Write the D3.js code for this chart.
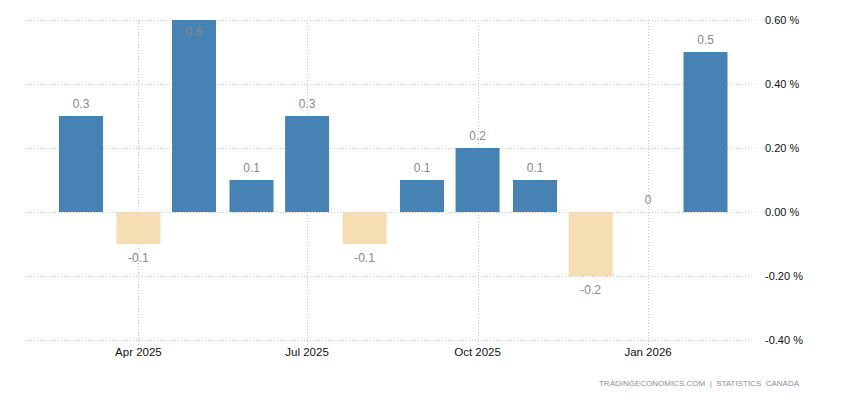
<!DOCTYPE html>
<html>
<head>
<meta charset="utf-8">
<script src="https://cdn.jsdelivr.net/npm/d3@7/dist/d3.min.js"></script>
<style>
  html, body { margin: 0; padding: 0; background: #fff; }
  svg { display: block; font-family: "Liberation Sans", Arial, sans-serif; }
</style>
</head>
<body>
<svg id="chart" width="850" height="400"></svg>
<script>
const months = ["2025-03","2025-04","2025-05","2025-06","2025-07","2025-08","2025-09","2025-10","2025-11","2025-12","2026-01","2026-02"];
const values = [0.3, -0.1, 0.6, 0.1, 0.3, -0.1, 0.1, 0.2, 0.1, -0.2, 0, 0.5];
const labels = ["0.3","-0.1","0.6","0.1","0.3","-0.1","0.1","0.2","0.1","-0.2","0","0.5"];
const xTickDates = ["2025-04","2025-07","2025-10","2026-01"];
const xTickLabels = ["Apr 2025","Jul 2025","Oct 2025","Jan 2026"];
const yTicks = [-0.4, -0.2, 0, 0.2, 0.4, 0.6];
const yTickLabels = ["-0.40 %","-0.20 %","0.00 %","0.20 %","0.40 %","0.60 %"];
const footer = "TRADINGECONOMICS.COM  |  STATISTICS  CANADA";

(function () {
const parse = d3.utcParse("%Y-%m");
const svg = d3.select("#chart");

const pL = 25, pR = 750, pT = 20, pB = 340;
const x = d3.scaleUtc()
  .domain([parse("2025-03"), parse("2026-02")])
  .range([81, 705.5]);
const y = d3.scaleLinear().domain([-0.4, 0.6]).range([pB, pT]);
const barW = 44;

// horizontal grid
svg.append("g").selectAll("line").data(yTicks).join("line")
  .attr("x1", pL).attr("x2", pR)
  .attr("y1", d => Math.round(y(d)) + 0.5).attr("y2", d => Math.round(y(d)) + 0.5)
  .attr("stroke", "#c8c8c8").attr("stroke-dasharray", "1,2");

// vertical grid
const xt = xTickDates.map(parse);
svg.append("g").selectAll("line").data(xt).join("line")
  .attr("x1", d => Math.round(x(d)) + 0.5).attr("x2", d => Math.round(x(d)) + 0.5)
  .attr("y1", pT).attr("y2", pB + 5)
  .attr("stroke", "#c8c8c8").attr("stroke-dasharray", "1,2");

// bars
const data = months.map((m, i) => ({ date: parse(m), v: values[i], label: labels[i] }));
svg.append("g").selectAll("rect").data(data.filter(d => d.v !== 0)).join("rect")
  .attr("x", d => x(d.date) - barW / 2)
  .attr("width", barW)
  .attr("y", d => y(Math.max(0, d.v)))
  .attr("height", d => Math.abs(y(d.v) - y(0)))
  .attr("fill", d => d.v >= 0 ? "#4682b4" : "#f5deb3");

// value labels
svg.append("g").selectAll("text").data(data).join("text")
  .attr("x", d => x(d.date))
  .attr("y", d => {
    if (d.v < 0) return y(d.v) + 18;
    const yy = y(d.v) - 8;
    return yy < pT + 2 ? y(d.v) + 16 : yy;
  })
  .attr("text-anchor", "middle")
  .attr("font-size", 12)
  .attr("fill", "#8a8a8a")
  .text(d => d.label);

// y axis labels
svg.append("g").selectAll("text").data(yTicks).join("text")
  .attr("x", 765)
  .attr("y", d => y(d) + 4)
  .attr("font-size", 11)
  .attr("fill", "#111")
  .text((d, i) => yTickLabels[i]);

// x axis labels
svg.append("g").selectAll("text").data(xt).join("text")
  .attr("x", d => x(d))
  .attr("y", 356)
  .attr("text-anchor", "middle")
  .attr("font-size", 11.5)
  .attr("fill", "#111")
  .text((d, i) => xTickLabels[i]);

// footer
svg.append("text")
  .attr("x", 799).attr("y", 386)
  .attr("text-anchor", "end")
  .attr("font-size", 8)
  .attr("fill", "#8a8f9a")
  .attr("xml:space", "preserve")
  .style("white-space", "pre")
  .text(footer);
})();
</script>
</body>
</html>
